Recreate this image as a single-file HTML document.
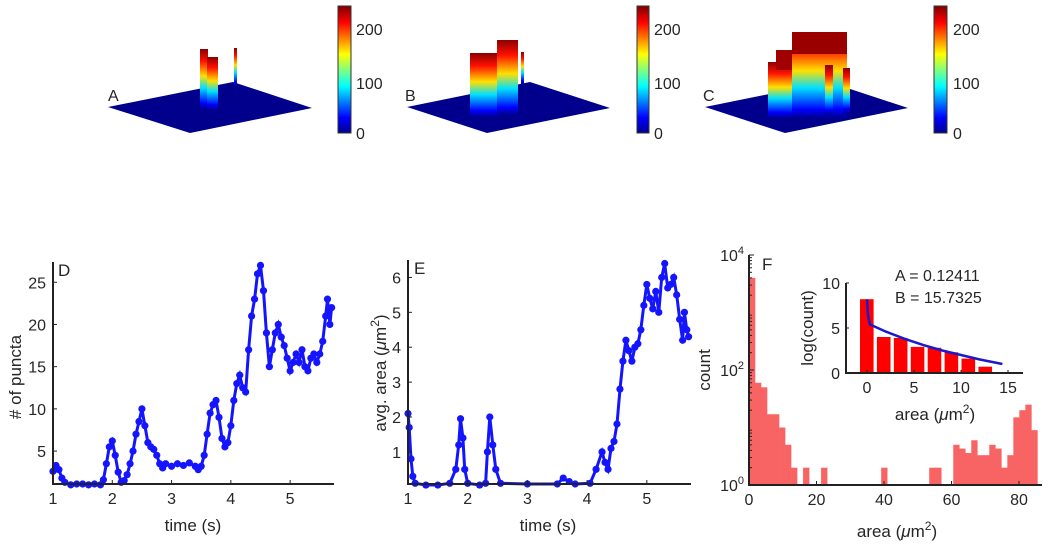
<!DOCTYPE html>
<html><head><meta charset="utf-8"><style>
html,body{margin:0;padding:0;background:#fff;}
svg{display:block;font-family:"Liberation Sans",sans-serif;}
text{fill:#262626;}
</style></head><body>
<svg id="fig" width="1050" height="552" viewBox="0 0 1050 552" xmlns="http://www.w3.org/2000/svg">
<defs>
<linearGradient id="jet" x1="0" y1="1" x2="0" y2="0">
<stop offset="0" stop-color="#00008f"/><stop offset="0.12" stop-color="#0000ff"/><stop offset="0.37" stop-color="#00ffff"/><stop offset="0.62" stop-color="#ffff00"/><stop offset="0.87" stop-color="#ff0000"/><stop offset="1" stop-color="#800000"/>
</linearGradient>
<linearGradient id="jetb" x1="0" y1="1" x2="0" y2="0">
<stop offset="0" stop-color="#00008f"/><stop offset="0.1" stop-color="#0000ff"/><stop offset="0.35" stop-color="#00e0ff"/><stop offset="0.55" stop-color="#ffe000"/><stop offset="0.8" stop-color="#ff1000"/><stop offset="1" stop-color="#8a0000"/>
</linearGradient>
</defs>

<!-- Panel A -->
<g>
<polygon points="108,107 233,82 312,108 190,133" fill="#00008c"/>
<rect x="200" y="49" width="8" height="60" fill="url(#jetb)"/>
<rect x="207" y="57" width="11" height="53" fill="url(#jetb)"/>
<rect x="234" y="48" width="3" height="38" fill="url(#jetb)"/>
<text x="108" y="101" font-size="16">A</text>
</g>
<g>
<rect x="338" y="6" width="13" height="127" fill="url(#jet)" stroke="#333" stroke-width="1"/>
<text x="356" y="35" font-size="16">200</text><text x="356" y="89" font-size="16">100</text><text x="356" y="139" font-size="16">0</text>
</g>

<!-- Panel B -->
<g>
<polygon points="407,107 530,82 610,108 487,133" fill="#00008c"/>
<rect x="470" y="53" width="28" height="64" fill="url(#jetb)"/>
<rect x="497" y="40" width="21" height="75" fill="url(#jetb)"/>
<rect x="521" y="52" width="3" height="32" fill="url(#jetb)"/>
<text x="405" y="101" font-size="16">B</text>
</g>
<g>
<rect x="637" y="6" width="12" height="127" fill="url(#jet)" stroke="#333" stroke-width="1"/>
<text x="654" y="35" font-size="16">200</text><text x="654" y="89" font-size="16">100</text><text x="654" y="139" font-size="16">0</text>
</g>

<!-- Panel C -->
<g>
<polygon points="705,107 829,82 908,108 785,133" fill="#00008c"/>
<rect x="768" y="62" width="25" height="56" fill="url(#jetb)"/>
<rect x="776" y="50" width="17" height="20" fill="#a00000"/>
<rect x="792" y="32" width="55" height="86" fill="url(#jetb)"/>
<rect x="792" y="32" width="55" height="22" fill="#9a0000"/>
<rect x="825" y="65" width="8" height="50" fill="url(#jetb)"/>
<rect x="843" y="68" width="7" height="45" fill="url(#jetb)"/>
<text x="703" y="101" font-size="16">C</text>
</g>
<g>
<rect x="934" y="6" width="13" height="127" fill="url(#jet)" stroke="#333" stroke-width="1"/>
<text x="953" y="35" font-size="16">200</text><text x="953" y="89" font-size="16">100</text><text x="953" y="139" font-size="16">0</text>
</g>

<g id="D"></g><g id="E"></g><g id="F"></g>
</svg>
<script>
// Panel D data
const dTime = [1.0,1.05,1.1,1.15,1.2,1.3,1.4,1.5,1.6,1.7,1.8,1.85,1.9,1.95,2.0,2.05,2.1,2.15,2.2,2.25,2.3,2.35,2.4,2.45,2.5,2.55,2.6,2.65,2.7,2.75,2.8,2.85,2.9,3.0,3.1,3.2,3.3,3.4,3.45,3.5,3.55,3.6,3.65,3.7,3.75,3.8,3.85,3.9,3.95,4.0,4.05,4.1,4.15,4.2,4.25,4.3,4.35,4.4,4.45,4.5,4.55,4.6,4.65,4.7,4.75,4.8,4.85,4.9,4.95,5.0,5.05,5.1,5.15,5.2,5.25,5.3,5.35,5.4,5.45,5.5,5.55,5.6,5.63,5.67,5.7];
const dPuncta = [2.6,3.3,2.8,1.8,1.3,1.0,1.1,1.1,1.0,1.1,1.0,1.6,3.5,5.5,6.2,4.5,2.5,1.3,1.5,2.2,3.5,5,7,8.5,10,8,6,5.5,5.2,4.5,3.5,3,3.5,3.2,3.5,3.3,3.6,3.2,2.8,3.2,4.5,7,9.5,10.5,11,9,6.5,5.5,6,8,11,13,14,12.5,12,17,21,23,26,27,24,19,15,17,19,20,18.5,17.5,16,14.5,15.5,16.5,15.5,17,15,14.5,16,16.5,15.5,16.5,18,21,23,20,22];
const dXTicks = [1,2,3,4,5];
const dYTicks = [5,10,15,20,25];
// Panel E data
const eTime = [1.0,1.02,1.05,1.08,1.12,1.3,1.5,1.7,1.8,1.85,1.88,1.92,1.95,2.0,2.2,2.3,2.33,2.37,2.42,2.47,2.55,3.0,3.5,3.6,3.7,3.8,4.05,4.15,4.25,4.3,4.35,4.4,4.45,4.5,4.55,4.6,4.65,4.7,4.75,4.8,4.85,4.9,4.95,5.0,5.05,5.1,5.15,5.2,5.25,5.3,5.35,5.4,5.45,5.5,5.55,5.6,5.63,5.67,5.7];
const eArea = [2.1,1.7,0.8,0.3,0.1,0.05,0.05,0.1,0.5,1.2,1.95,1.4,0.5,0.1,0.05,0.1,1.0,2.0,1.2,0.5,0.1,0.08,0.08,0.25,0.15,0.08,0.1,0.5,1.0,0.7,0.5,1.1,1.3,1.8,2.8,3.6,4.2,3.9,3.6,4.0,4.1,4.5,5.2,5.8,5.4,5.1,5.6,5.0,6.0,6.4,5.7,5.8,6.0,5.5,4.8,4.2,5.0,4.5,4.3];
const eXTicks = [1,2,3,4,5];
const eYTicks = [1,2,3,4,5,6];
// Panel F data (bin width 1.78)
const fCounts = [4000,60,50,17,17,10,5,2,0,2,0,0,2,0,0,0,0,0,0,0,0,0,2,0,0,0,0,0,0,0,2,2,0,0,5,4.3,3.6,6,3.3,3.3,5,4.3,2,3.3,15,20,25,9];
const fXTicks = [0,20,40,60,80];
const fYTickExp = [0,2,4];
const insetCenters = [0,1.8,3.6,5.4,7.2,9.0,10.8,12.6];
const insetLogCounts = [8.2,4.0,3.9,2.9,2.8,2.3,1.6,0.7];
const fitX = [0,0.1,0.3,2,4,6,8,10,12,14.4];
const fitY = [8.2,6.5,5.4,4.6,3.8,3.1,2.5,2.0,1.5,1.0];
const insetXTicks = [0,5,10,15];
const insetYTicks = [0,5,10];

const NS = "http://www.w3.org/2000/svg";
function mk(parent, tag, attrs, txt){const e=document.createElementNS(NS,tag);for(const k in attrs)e.setAttribute(k,attrs[k]);if(txt!==undefined)e.textContent=txt;parent.appendChild(e);return e;}

function linePanel(g, xs, ys, box, xr, yr, xt, yt){
  const sx=v=>box.l+(v-xr[0])/(xr[1]-xr[0])*(box.r-box.l);
  const sy=v=>box.b-(v-yr[0])/(yr[1]-yr[0])*(box.b-box.t);
  let d="";
  xs.forEach((x,i)=>{d+=(i?"L":"M")+sx(x).toFixed(1)+","+sy(ys[i]).toFixed(1);});
  const p=mk(g,"path",{d:d,fill:"none",stroke:"#1414ff","stroke-width":3});
  
  
  xs.forEach((x,i)=>{
    const c=mk(g,"circle",{cx:sx(x),cy:sy(ys[i]),r:3.6,fill:"#1414ff"});
    
    
  });
  mk(g,"path",{d:`M${box.l},${box.t}V${box.b}H${box.r}`,fill:"none",stroke:"#222","stroke-width":2});
  xt.forEach(v=>{
    mk(g,"line",{x1:sx(v),x2:sx(v),y1:box.b,y2:box.b-4,stroke:"#222"});
    const t=mk(g,"text",{x:sx(v),y:box.b+20,"font-size":16,"text-anchor":"middle"},String(v));
    
    
  });
  yt.forEach(v=>{
    mk(g,"line",{x1:box.l,x2:box.l+4,y1:sy(v),y2:sy(v),stroke:"#222"});
    const t=mk(g,"text",{x:box.l-7,y:sy(v)+6,"font-size":16,"text-anchor":"end"},String(v));
    
    
  });
}

// D
const gD=document.getElementById('D');


linePanel(gD,dTime,dPuncta,{l:53,r:334,t:262,b:484},[1,5.74],[1.1,27.4],dXTicks,dYTicks);
mk(gD,"text",{x:58,y:276,"font-size":17},"D");
mk(gD,"text",{x:193,y:531,"font-size":17,"text-anchor":"middle"},"time (s)");
mk(gD,"text",{x:0,y:0,"font-size":17,"text-anchor":"middle",transform:"translate(21,377) rotate(-90)"},"# of puncta");

// E
const gE=document.getElementById('E');


linePanel(gE,eTime,eArea,{l:408,r:691,t:260,b:484},[1,5.74],[0.08,6.5],eXTicks,eYTicks);
mk(gE,"text",{x:414,y:274,"font-size":17},"E");
mk(gE,"text",{x:548,y:531,"font-size":17,"text-anchor":"middle"},"time (s)");
const eyl=mk(gE,"text",{x:0,y:0,"font-size":17,"text-anchor":"middle",transform:"translate(386,373) rotate(-90)"});
eyl.innerHTML='avg. area (<tspan font-style="italic">μ</tspan>m<tspan dy="-7" font-size="12">2</tspan><tspan dy="7">)</tspan>';

// F
const gF=document.getElementById('F');


const fl=749,fb=485,fr=1042,bw=1.78;
const fx=v=>fl+v*3.375;
const fy=c=>fb-Math.log10(c)*57.5;
fCounts.forEach((c,i)=>{
  if(c<=1)return;
  const r=mk(gF,"rect",{x:fx(i*bw),y:fy(c),width:fx(bw)-fx(0)+0.3,height:fb-fy(c),fill:"#f86464"});
  
  
});
mk(gF,"path",{d:`M${fl},255V${fb}H${fr}`,fill:"none",stroke:"#222","stroke-width":2});
for(let e=0;e<4;e++)for(let m=2;m<10;m++){const y=fy(m*Math.pow(10,e));mk(gF,"line",{x1:fl,x2:fl+3,y1:y,y2:y,stroke:"#222"});}
fYTickExp.forEach(e=>{
  mk(gF,"line",{x1:fl,x2:fl+5,y1:fy(Math.pow(10,e)),y2:fy(Math.pow(10,e)),stroke:"#222"});
  const t=mk(gF,"text",{x:fl-5,y:fy(Math.pow(10,e))+6,"font-size":16,"text-anchor":"end"});
  t.innerHTML='10<tspan dy="-7" font-size="11">'+e+'</tspan>';
  
  
});
fXTicks.forEach(v=>{
  mk(gF,"line",{x1:fx(v),x2:fx(v),y1:fb,y2:fb-4,stroke:"#222"});
  const t=mk(gF,"text",{x:fx(v),y:fb+20,"font-size":16,"text-anchor":"middle"},String(v));
  
  
});
mk(gF,"text",{x:762,y:270,"font-size":17},"F");
const fxl=mk(gF,"text",{x:897,y:537,"font-size":17,"text-anchor":"middle"});
fxl.innerHTML='area (<tspan font-style="italic">μ</tspan>m<tspan dy="-7" font-size="12">2</tspan><tspan dy="7">)</tspan>';
mk(gF,"text",{x:0,y:0,"font-size":17,"text-anchor":"middle",transform:"translate(710,370) rotate(-90)"},"count");

// inset
const il=846,ir=1023,ib=373,it=283;
const ix=v=>867+v*9.4;
const iy=v=>ib-v*9;
insetCenters.forEach((c,i)=>{
  const r=mk(gF,"rect",{x:ix(c)-7,y:iy(insetLogCounts[i]),width:13.6,height:ib-iy(insetLogCounts[i]),fill:"#ff0000"});
  
  
});
let fd="";fitX.forEach((x,i)=>{fd+=(i?"L":"M")+ix(x).toFixed(1)+","+iy(fitY[i]).toFixed(1);});
const fit=mk(gF,"path",{d:fd,fill:"none",stroke:"#1a1acc","stroke-width":2.5});


mk(gF,"path",{d:`M${il},${it}V${ib}H${ir}`,fill:"none",stroke:"#222","stroke-width":2});
insetXTicks.forEach(v=>{
  mk(gF,"line",{x1:ix(v),x2:ix(v),y1:ib,y2:ib-3,stroke:"#222"});
  mk(gF,"text",{x:ix(v),y:ib+20,"font-size":16,"text-anchor":"middle"},String(v));
});
insetYTicks.forEach(v=>{
  mk(gF,"line",{x1:il,x2:il+3,y1:iy(v),y2:iy(v),stroke:"#222"});
  mk(gF,"text",{x:il-6,y:iy(v)+6,"font-size":16,"text-anchor":"end"},String(v));
});
const ixl=mk(gF,"text",{x:935,y:420,"font-size":17,"text-anchor":"middle"});
ixl.innerHTML='area (<tspan font-style="italic">μ</tspan>m<tspan dy="-7" font-size="12">2</tspan><tspan dy="7">)</tspan>';
mk(gF,"text",{x:0,y:0,"font-size":17,"text-anchor":"middle",transform:"translate(813,328) rotate(-90)"},"log(count)");
const ta=mk(gF,"text",{x:895,y:281,"font-size":16},"A = 0.12411");


const tb=mk(gF,"text",{x:895,y:303,"font-size":16},"B = 15.7325");


</script>
</body></html>
